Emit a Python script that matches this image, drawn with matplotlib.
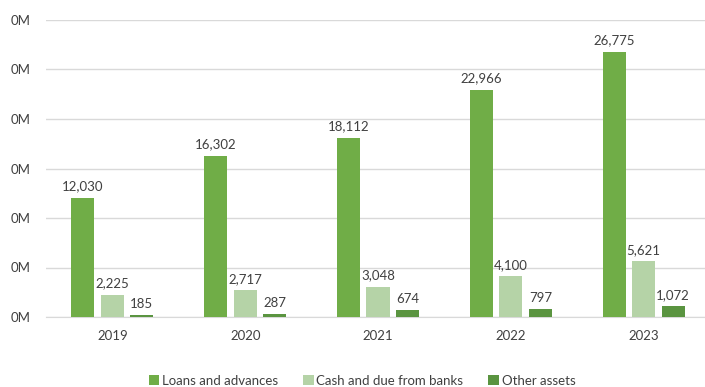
import numpy as np
import matplotlib
matplotlib.use('Agg')
import matplotlib.pyplot as plt
from matplotlib.ticker import FuncFormatter

years = ['2019', '2020', '2021', '2022', '2023']
loans = [12030, 16302, 18112, 22966, 26775]
cash = [2225, 2717, 3048, 4100, 5621]
other = [185, 287, 674, 797, 1072]

plt.rcParams['font.family'] = ['Lato', 'DejaVu Sans']
txt = '#404040'

fig = plt.figure(figsize=(7.05, 3.87), dpi=100)
ax = fig.add_axes([46/705, 1 - 317/387, 664/705, 297/387])

x = np.arange(len(years))
w = 0.174
step = 0.222
series = [(loans, '#70AD47', 'Loans and advances'),
          (cash, '#B5D3A7', 'Cash and due from banks'),
          (other, '#5A9440', 'Other assets')]
for i, (vals, col, lab) in enumerate(series):
    bars = ax.bar(x + (i - 1) * step, vals, w, color=col, label=lab, zorder=3)
    for b, v in zip(bars, vals):
        ax.text(b.get_x() + b.get_width() / 2, v + 550, f'{v:,}', ha='center', va='bottom',
                fontsize=9.5, color=txt)

ax.set_xlim(-0.5, len(years) - 0.5)
ax.set_ylim(0, 30000)
ax.set_yticks(np.arange(0, 30001, 5000))
ax.yaxis.set_major_formatter(FuncFormatter(lambda v, p: f'{v/1e6:.0f}M'))
ax.set_xticks(x)
ax.set_xticklabels(years)
ax.grid(axis='y', color='#D9D9D9', linewidth=1, zorder=0)
for s in ['top', 'right', 'left']:
    ax.spines[s].set_visible(False)
ax.spines['bottom'].set_color('#D9D9D9')
ax.tick_params(axis='both', length=0, colors=txt, labelsize=9.5)
ax.tick_params(axis='x', pad=9)
ax.tick_params(axis='y', pad=11)

fig.legend(loc='center', bbox_to_anchor=(362/705, 1 - 381/387), ncol=3, frameon=False,
           fontsize=9.5, handlelength=0.8, handleheight=0.8, handletextpad=0.2,
           columnspacing=1.9, labelcolor=txt)

fig.savefig('out.png', dpi=100)
